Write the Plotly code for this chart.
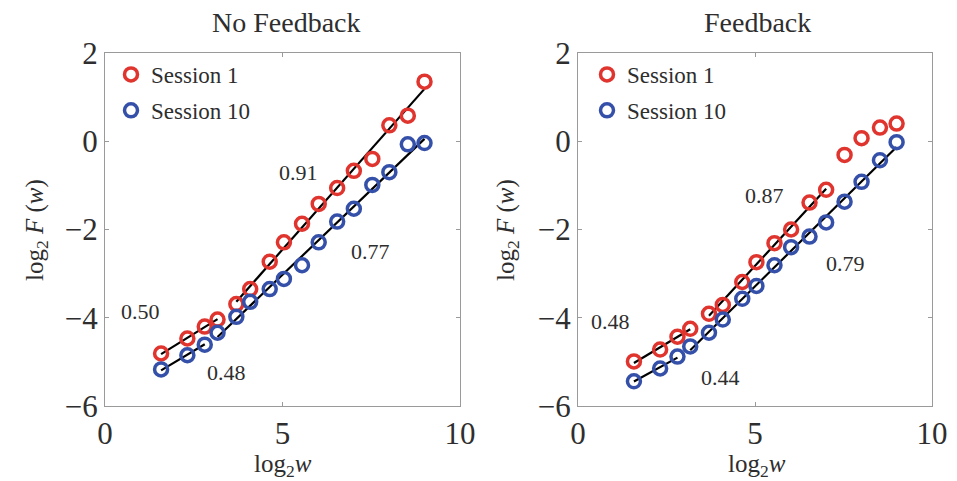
import numpy as np
import plotly.graph_objects as go

# ---- data ----
log2_w = [1.58, 2.32, 2.81, 3.17, 3.70, 4.09, 4.64, 5.04, 5.55, 6.02, 6.54, 7.01, 7.53, 8.01, 8.53, 9.00]

nofb_s1 = [-4.81, -4.47, -4.20, -4.04, -3.69, -3.35, -2.73, -2.29, -1.87, -1.42, -1.06, -0.67, -0.40, 0.36, 0.58, 1.35]
nofb_s10 = [-5.17, -4.85, -4.61, -4.34, -3.98, -3.64, -3.35, -3.12, -2.81, -2.29, -1.82, -1.53, -0.99, -0.70, -0.07, -0.04]

fb_s1 = [-4.99, -4.72, -4.43, -4.25, -3.91, -3.71, -3.19, -2.74, -2.31, -2.00, -1.39, -1.10, -0.31, 0.07, 0.31, 0.40]
fb_s10 = [-5.44, -5.15, -4.88, -4.65, -4.34, -4.04, -3.57, -3.28, -2.81, -2.40, -2.16, -1.84, -1.37, -0.92, -0.43, -0.02]

# fitted segments: (series, first index, last index, slope label)
nofb_fits = [("s1", 0, 3, 0.50), ("s1", 4, 15, 0.91), ("s10", 0, 2, 0.48), ("s10", 3, 15, 0.77)]
fb_fits = [("s1", 0, 3, 0.48), ("s1", 4, 11, 0.87), ("s10", 0, 2, 0.44), ("s10", 3, 15, 0.79)]

# slope label positions (data coords)
nofb_labels = [(1.0, -3.85, "0.50"), (5.44, -0.70, "0.91"), (3.43, -5.24, "0.48"), (7.48, -2.49, "0.77")]
fb_labels = [(0.91, -4.09, "0.48"), (5.27, -1.24, "0.87"), (4.03, -5.35, "0.44"), (7.55, -2.76, "0.79")]

titles = ["No Feedback", "Feedback"]
x_ticks = [0, 5, 10]
y_ticks = [-6, -4, -2, 0, 2]

RED = "#e0342e"
BLUE = "#3550a8"
FONT = "Liberation Serif"
TXT = "#2e2e2e"

W, H = 957, 481
fig = go.Figure()

panels = [
    ("x", "y", nofb_s1, nofb_s10, nofb_fits, nofb_labels, "legend"),
    ("x2", "y2", fb_s1, fb_s10, fb_fits, fb_labels, "legend2"),
]

for xa, ya, s1, s10, fits, labels, lg in panels:
    series = {"s1": s1, "s10": s10}
    # fit lines
    for key, i0, i1, slope in fits:
        xs = np.array(log2_w[i0:i1 + 1])
        ys = np.array(series[key][i0:i1 + 1])
        xb, yb = xs.mean(), ys.mean()
        fy = yb + slope * (xs - xb)
        fig.add_trace(go.Scatter(x=[xs[0], xs[-1]], y=[fy[0], fy[-1]], mode="lines",
                                 line=dict(color="black", width=2.2), showlegend=False,
                                 xaxis=xa, yaxis=ya, hoverinfo="skip"))
    fig.add_trace(go.Scatter(x=log2_w, y=s1, mode="markers", name="Session 1", legendgroup="s1",
                             marker=dict(symbol="circle-open", size=13, color=RED, line=dict(width=3.5, color=RED)),
                             xaxis=xa, yaxis=ya, legend=lg))
    fig.add_trace(go.Scatter(x=log2_w, y=s10, mode="markers", name="Session 10", legendgroup="s10",
                             marker=dict(symbol="circle-open", size=13, color=BLUE, line=dict(width=3.5, color=BLUE)),
                             xaxis=xa, yaxis=ya, legend=lg))
    for lx, ly, txt in labels:
        fig.add_annotation(x=lx, y=ly, xref=xa, yref=ya, text=txt, showarrow=False,
                           xanchor="center", yanchor="middle",
                           font=dict(family=FONT, size=22, color=TXT))

ydom = [1 - 406 / H, 1 - 53 / H]
xdoms = [[105 / W, 460 / W], [578 / W, 932 / W]]

axis_common = dict(showgrid=False, zeroline=False, showline=True, linecolor="#9a9a9a", linewidth=1.2,
                   mirror="ticks", ticks="inside", ticklen=4, tickcolor="#9a9a9a", automargin=False,
                   tickfont=dict(family=FONT, size=31, color=TXT))

legend_common = dict(xanchor="left", yanchor="top", bgcolor="rgba(0,0,0,0)",
                     font=dict(family=FONT, size=23, color=TXT), itemwidth=30, tracegroupgap=3)

fig.update_layout(
    width=W, height=H, margin=dict(l=0, r=0, t=0, b=0, autoexpand=False),
    plot_bgcolor="white", paper_bgcolor="white",
    xaxis=dict(domain=xdoms[0], range=[0, 10], tickvals=x_ticks, anchor="y", **axis_common),
    yaxis=dict(domain=ydom, range=[-6, 2], tickvals=y_ticks, anchor="x", **axis_common),
    xaxis2=dict(domain=xdoms[1], range=[0, 10], tickvals=x_ticks, anchor="y2", **axis_common),
    yaxis2=dict(domain=ydom, range=[-6, 2], tickvals=y_ticks, anchor="x2", **axis_common),
    legend=dict(x=111 / W, y=1 - 53 / H, **legend_common),
    legend2=dict(x=587 / W, y=1 - 53 / H, **legend_common),
)

# titles and axis labels
for cx, title in zip([286, 757], titles):
    fig.add_annotation(x=cx / W, y=1 - 22 / H, xref="paper", yref="paper", text=title, showarrow=False,
                       xanchor="center", yanchor="middle",
                       font=dict(family=FONT, size=28, color=TXT))
for cx in [283, 757]:
    fig.add_annotation(x=cx / W, y=1 - 465 / H, xref="paper", yref="paper",
                       text="log<sub>2</sub><i>w</i>", showarrow=False,
                       xanchor="center", yanchor="middle",
                       font=dict(family=FONT, size=25, color=TXT))
for cx in [36, 507]:
    fig.add_annotation(x=cx / W, y=1 - 230 / H, xref="paper", yref="paper",
                       text="log<sub>2</sub> <i>F</i> (<i>w</i>)", showarrow=False, textangle=-90,
                       xanchor="center", yanchor="middle",
                       font=dict(family=FONT, size=25, color=TXT))

fig.write_html("out.html")
